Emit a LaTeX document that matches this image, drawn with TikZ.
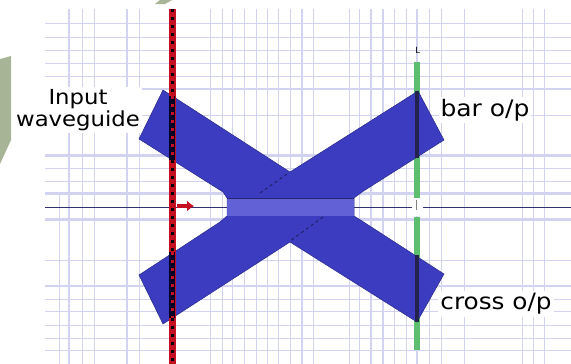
\documentclass[tikz,border=0pt]{standalone}
\usepackage{fontspec}
\newfontfamily\labelfont[FakeStretch=1.1]{DejaVu Sans}
\usepackage{tikz}
\usetikzlibrary{arrows.meta, positioning}
\definecolor{gridlilac}{RGB}{210, 210, 241}
\definecolor{armblue}{RGB}{60, 60, 192}
\definecolor{coreblue}{RGB}{98, 98, 214}
\definecolor{axisnavy}{RGB}{50, 50, 110}
\definecolor{launchred}{RGB}{196, 16, 32}
\definecolor{monitorgreen}{RGB}{92, 190, 110}
\definecolor{slideolive}{RGB}{168, 180, 150}

\begin{document}
\begin{tikzpicture}[
    x=1pt, y=-1pt,
    gridline/.style={draw=gridlilac, line width=1pt},
    gridmedium/.style={draw=gridlilac, line width=1.8pt},
    gridheavy/.style={draw=gridlilac, line width=3pt},
    arm/.style={fill=armblue, draw=armblue!70!black, line width=0.5pt},
    caption/.style={font=\labelfont, fill=white, inner sep=2pt, text=black, align=center},
    couplerdash/.style={draw=armblue!50!black, line width=0.9pt, dashed}
]
\useasboundingbox (0,0) rectangle (571,364);

% Slide background
\fill[slideolive] (0,59) -- (11,56) -- (11,140) -- (0,164) -- cycle;
\fill[slideolive] (155,4) -- (160,0) -- (172,0) -- (165,4) -- cycle;

% Grid
\foreach \gx in {82,94,139,210,222,232,244,256,267,278,290,313,349,359,394,406,429,441,464,522,533,544}
    \draw[gridline] (\gx,9) -- (\gx,364);
\foreach \gx in {69,127,302,371,383,417}
    \draw[gridmedium] (\gx,9) -- (\gx,364);
\draw[gridline] (59,193) -- (59,364);
\foreach \gy in {23,37,50,63,76,115,168,181,260,299,311,325,338,350}
    \draw[gridline] (45,\gy) -- (571,\gy);
\foreach \gy in {155,193,219}
    \draw[gridheavy] (45,\gy) -- (571,\gy);
\draw[gridmedium] (45,89) -- (571,89);
\draw[gridmedium] (45,286) -- (571,286);
\draw[axisnavy, line width=1pt] (45,207) -- (571,207);

% Labels
\node[caption, font=\labelfont\fontsize{20.7}{22}\selectfont] (inputlabel) at (78,110) {Input\\waveguide};
\node[caption, font=\labelfont\fontsize{22.7}{24}\selectfont] (barlabel) at (485,110) {bar o/p};
\node[caption, font=\labelfont\fontsize{22.5}{24}\selectfont] (crosslabel) at (496,304) {cross o/p};

% Output monitor
\fill[white] (412,198) rectangle (423,216);
\draw[monitorgreen, line width=6pt] (417,62) -- (417,198);
\draw[monitorgreen, line width=6pt] (417,217) -- (417,350);
\draw[gray, line width=0.8pt] (416,200) -- (416,210);
\node[font=\sffamily\fontsize{9}{9}\selectfont, inner sep=0pt] (monitortag) at (418,50) {L};

% Coupler
\draw[arm] (163,90) -- (290,172) -- (418,91) -- (444,140) -- (362,192) -- (354,198)
    -- (354,216) -- (362,221) -- (444,274) -- (417,322) -- (290,242) -- (163,324)
    -- (139,275) -- (220,222) -- (227,216) -- (227,198) -- (223,192) -- (139,139) -- cycle;
\fill[coreblue] (227,198) rectangle (354,216);
\draw[armblue!60!black, line width=0.7pt] (227,198) -- (354,198);
\draw[couplerdash] (260,193) -- (287,174);
\draw[couplerdash] (323,217) -- (290,241);

% Launch line
\draw[launchred, line width=7pt] (172,9) -- (172,364);
\draw[black!85!blue, line width=6pt] (172,96) -- (172,160);
\draw[black!85!blue, line width=6pt] (172,252) -- (172,318);
\draw[black, line width=3pt, dash pattern=on 3pt off 5pt] (172,9) -- (172,96);
\draw[black, line width=3pt, dash pattern=on 3pt off 5pt] (172,160) -- (172,252);
\draw[black, line width=3pt, dash pattern=on 3pt off 5pt] (172,318) -- (172,364);
\draw[launchred, line width=3pt, dash pattern=on 3pt off 5pt] (172,96) -- (172,160);
\draw[launchred, line width=3pt, dash pattern=on 3pt off 5pt] (172,252) -- (172,318);

% Launch direction
\coordinate (launchtail) at (177,206);
\coordinate (launchhead) at (194,206);
\draw[launchred, line width=4.5pt, -{Latex[length=7pt, width=11pt]}] (launchtail) -- (launchhead);

% Output monitor inside the arms
\draw[axisnavy!70!black, line width=3.5pt] (417,91) -- (417,158);
\draw[axisnavy!70!black, line width=3.5pt] (417,255) -- (417,322);

\end{tikzpicture}
\end{document}
